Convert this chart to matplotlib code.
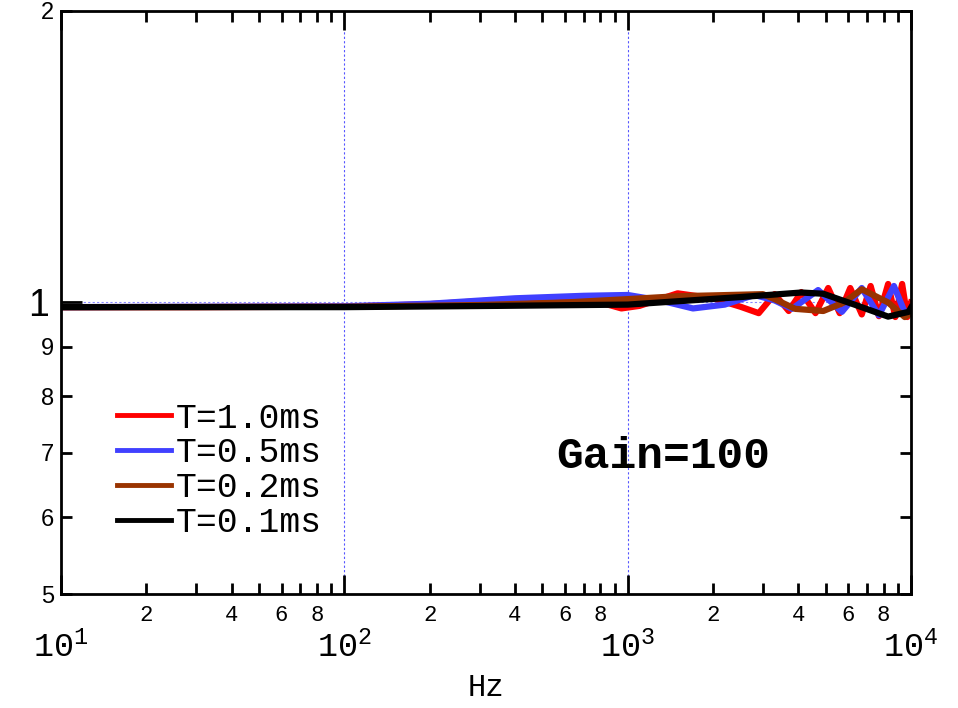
import math
import matplotlib
matplotlib.use('Agg')
import matplotlib.pyplot as plt
from matplotlib.ticker import FixedLocator, FuncFormatter

plt.rcParams['mathtext.fontset'] = 'custom'
plt.rcParams['mathtext.rm'] = 'Liberation Mono'
plt.rcParams['mathtext.it'] = 'Liberation Mono'

MONO = 'Liberation Mono'
SANS = 'Liberation Sans'

# gain (relative) vs frequency
freq_red = [10, 30, 100, 200, 400, 600, 800, 950, 1100, 1500, 2000, 2500, 2900, 3300,
            3700, 4100, 4600, 5100, 5600, 6100, 6700, 7200, 7700, 8300, 8800, 9300,
            9700, 10000]
gain_red = [0.989, 0.989, 0.990, 0.996, 1.008, 1.011, 1.000, 0.986, 0.992, 1.022, 1.010,
            0.990, 0.975, 1.020, 0.980, 1.025, 0.975, 1.035, 0.975, 1.035, 0.972, 1.040,
            0.968, 1.045, 0.966, 1.045, 0.966, 1.000]

freq_blue = [10, 100, 200, 400, 700, 1000, 1300, 1700, 2200, 2800, 3300, 3800, 4700,
             5700, 6700, 7700, 8700, 9600, 10000]
gain_blue = [0.989, 0.991, 0.997, 1.010, 1.016, 1.018, 1.005, 0.986, 0.995, 1.018, 1.005,
             0.985, 1.030, 0.978, 1.035, 0.970, 1.040, 0.970, 0.985]

freq_brown = [10, 100, 300, 600, 1000, 1500, 2000, 3000, 3300, 3900, 4900, 5800, 6700,
              8300, 9500, 10000]
gain_brown = [0.989, 0.990, 0.994, 1.000, 1.008, 1.015, 1.017, 1.020, 1.008, 0.985, 0.980,
              1.000, 1.032, 1.000, 0.966, 0.975]

freq_black = [10, 100, 347, 1000, 2500, 4100, 4900, 6500, 8300, 9800, 10000]
gain_black = [0.989, 0.989, 0.992, 0.995, 1.013, 1.024, 1.021, 0.992, 0.967, 0.978, 0.988]

labels = ['T=1.0ms', 'T=0.5ms', 'T=0.2ms', 'T=0.1ms']
colors = ['#ff0000', '#4040ff', '#993300', '#000000']


def x_major_fmt(v, pos):
    return r'$\mathregular{10^{%d}}$' % round(math.log10(v))


def x_minor_fmt(v, pos):
    m = int(round(v / 10 ** math.floor(math.log10(v) + 1e-9)))
    return str(m) if m in (2, 4, 6, 8) else ''


fig = plt.figure(figsize=(9.58, 7.08), dpi=100)
ax = fig.add_axes([0.0637, 0.161, 0.8873, 0.8235])

series = [(freq_red, gain_red), (freq_blue, gain_blue),
          (freq_brown, gain_brown), (freq_black, gain_black)]
for (f, g), lab, c in zip(series, labels, colors):
    ax.plot(f, g, color=c, linewidth=4.5, label=lab, solid_joinstyle='round')

ax.set_xscale('log')
ax.set_yscale('log')
ax.set_xlim(10, 10000)
ax.set_ylim(0.5, 2)

# grid only on major ticks
for xv in [100, 1000]:
    ax.axvline(xv, color='#5555ff', linewidth=0.8, linestyle=(0, (2, 2)), zorder=0)
ax.axhline(1, color='#8888ff', linewidth=0.8, linestyle=(0, (2, 2)), zorder=0)

# x ticks
ax.xaxis.set_major_locator(FixedLocator([10, 100, 1000, 10000]))
ax.xaxis.set_major_formatter(FuncFormatter(x_major_fmt))
xminor = [m * 10 ** e for e in (1, 2, 3) for m in range(2, 10)]
ax.xaxis.set_minor_locator(FixedLocator(xminor))
ax.xaxis.set_minor_formatter(FuncFormatter(x_minor_fmt))

# y ticks
ax.yaxis.set_major_locator(FixedLocator([1]))
ax.yaxis.set_major_formatter(FuncFormatter(lambda v, p: '1'))
ax.yaxis.set_minor_locator(FixedLocator([0.5, 0.6, 0.7, 0.8, 0.9, 2]))
ax.yaxis.set_minor_formatter(FuncFormatter(
    lambda v, p: '2' if v > 1.5 else str(int(round(v * 10)))))

ax.tick_params(which='both', direction='in', top=True, right=True, width=2, color='black')
ax.tick_params(axis='x', which='major', length=14, pad=27, labelsize=24)
ax.tick_params(axis='x', which='minor', length=8, pad=8, labelsize=16)
ax.tick_params(axis='y', which='major', length=15, pad=9, labelsize=27)
ax.tick_params(axis='y', which='minor', length=8, pad=5, labelsize=17)
for lab in ax.get_xticklabels(which='both'):
    lab.set_fontfamily(MONO)
for lab in ax.get_yticklabels(which='both'):
    lab.set_fontfamily(SANS)

for sp in ax.spines.values():
    sp.set_linewidth(2)

ax.set_xlabel('Hz', fontsize=22, fontfamily=MONO, labelpad=6)

leg = ax.legend(loc='upper left', bbox_to_anchor=(0.066, 0.33), frameon=False,
                prop={'family': MONO, 'size': 25}, handlelength=1.55, handletextpad=0.15,
                labelspacing=0.05, borderpad=0, borderaxespad=0)
for h in leg.get_lines():
    h.set_linewidth(3.5)

ax.text(0.708, 0.235, 'Gain=100', transform=ax.transAxes, ha='center', va='center',
        fontsize=32, fontweight='bold', fontfamily=MONO)

fig.savefig('out.png', dpi=100)
